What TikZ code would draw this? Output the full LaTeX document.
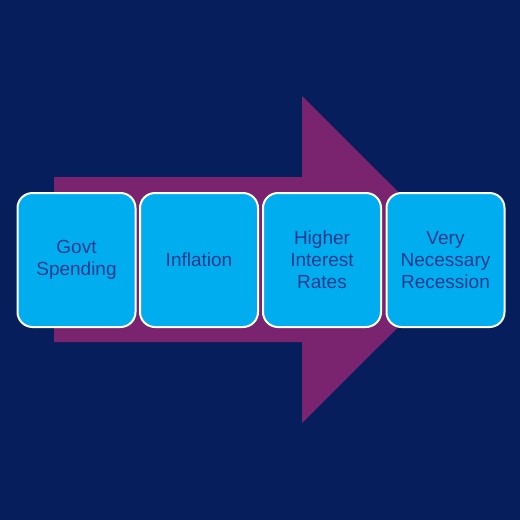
\documentclass[tikz,border=0pt]{standalone}
\usepackage{fontspec}
\setmainfont{Liberation Sans}
\definecolor{bgnavy}{HTML}{061E5C}
\definecolor{arrowpurple}{HTML}{7A2470}
\definecolor{boxcyan}{HTML}{00AEEF}
\definecolor{textnavy}{HTML}{1C3A8E}
\tikzset{
  stagebox/.style={draw=white, line width=2pt, fill=boxcyan, rounded corners=15pt,
    minimum width=118pt, minimum height=134pt, align=center, text=textnavy,
    font=\fontsize{19}{22}\selectfont, inner sep=0pt},
}
\begin{document}
\begin{tikzpicture}[x=1pt,y=-1pt]
\fill[bgnavy] (0,0) rectangle (520,520);
\useasboundingbox (0,0) rectangle (520,520);
\fill[arrowpurple] (54,177) -- (302,177) -- (302,96) -- (466,259.5) -- (302,423) -- (302,342) -- (54,342) -- cycle;
\node[stagebox] (b1) at (76.5,260) {Govt\\Spending};
\node[stagebox] (b2) at (199,260) {Inflation};
\node[stagebox] (b3) at (322,260) {Higher\\Interest\\Rates};
\node[stagebox] (b4) at (445.5,260) {Very\\Necessary\\Recession};
\end{tikzpicture}
\end{document}
